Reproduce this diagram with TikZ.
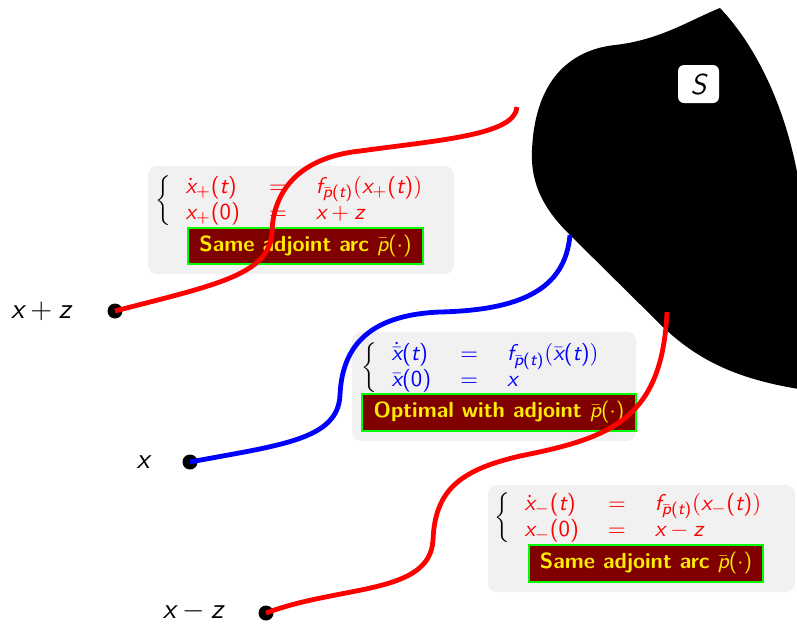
\RequirePackage{fix-cm}
\documentclass[tikz,border=0pt]{standalone}
\DeclareSymbolFont{sfup}{TU}{lmss}{m}{n}
\DeclareSymbolFont{sfit}{TU}{lmss}{m}{sl}
\DeclareMathSymbol{x}{\mathalpha}{sfit}{`x}
\DeclareMathSymbol{z}{\mathalpha}{sfit}{`z}
\DeclareMathSymbol{t}{\mathalpha}{sfit}{`t}
\DeclareMathSymbol{p}{\mathalpha}{sfit}{`p}
\DeclareMathSymbol{f}{\mathalpha}{sfit}{`f}
\DeclareMathSymbol{S}{\mathalpha}{sfit}{`S}
\DeclareMathSymbol{0}{\mathalpha}{sfup}{`0}
\DeclareMathSymbol{(}{\mathopen}{sfup}{`(}
\DeclareMathSymbol{)}{\mathclose}{sfup}{`)}
\definecolor{boxgray}{RGB}{241,241,241}
\definecolor{tagred}{RGB}{128,0,0}
\definecolor{taggreen}{RGB}{0,255,0}
\definecolor{tagyellow}{RGB}{255,235,0}
\begin{document}
\begin{tikzpicture}[x=0.5pt,y=-0.5pt,
  base/.style={font=\fontsize{10.95}{11.5}\selectfont\sffamily, inner sep=0pt,
    scale=1.04, transform shape},
  graybox/.style={fill=boxgray, rounded corners=4.5pt, draw=none, inner sep=0pt},
  tag/.style={fill=tagred, draw=taggreen, line width=1pt, text=tagyellow,
    font=\fontsize{10.95}{12}\selectfont\sffamily\bfseries, inner sep=0pt},
  lbl/.style={font=\fontsize{14.4}{16}\selectfont\sffamily, inner sep=0pt},
  dotnode/.style={circle, fill=black, minimum size=7.5pt, inner sep=0pt},
  traj/.style={line width=2.4pt},
]
\useasboundingbox (0,0) rectangle (797,623);
\clip (0,0) rectangle (797,623);
\setlength{\arraycolsep}{7pt}

% target set S
\fill[black] (720,8) .. controls (690,20) and (660,40) .. (615,45)
  .. controls (570,50) and (535,80) .. (532,150)
  .. controls (530,190) and (550,215) .. (570,235)
  -- (663,327)
  .. controls (700,362) and (740,380) .. (805,390)
  -- (805,240)
  .. controls (800,130) and (760,50) .. (720,8) -- cycle;
\node[fill=white, rounded corners=3pt, minimum width=20.5pt, minimum height=19pt,
  inner sep=0pt, font=\fontsize{14.4}{16}\selectfont\sffamily] (S) at (698.5,84) {$S$};

% gray boxes
\node[graybox, minimum width=153pt, minimum height=54pt] (g1) at (301,220) {};
\node[graybox, minimum width=142pt, minimum height=54.5pt] (g2) at (494,386.5) {};
\node[graybox, minimum width=153.5pt, minimum height=53.5pt] (g3) at (641.5,538.5) {};

% equations
\node[base, anchor=west] (e1) at (155,201)
  {$\left\{\color{red}\begin{array}{lcl}\dot x_+(t) & = & f_{\bar p(t)}\big(x_+(t)\big)\\ x_+(0) & = & x+z\end{array}\right.$};
\node[base, anchor=west] (e2) at (361,368)
  {$\left\{\color{blue}\begin{array}{lcl}\dot{\bar x}(t) & = & f_{\bar p(t)}\big(\bar x(t)\big)\\ \bar x(0) & = & x\end{array}\right.$};
\node[base, anchor=west] (e3) at (494,518)
  {$\left\{\color{red}\begin{array}{lcl}\dot x_-(t) & = & f_{\bar p(t)}\big(x_-(t)\big)\\ x_-(0) & = & x-z\end{array}\right.$};

% tags
\node[tag, minimum width=117.5pt, minimum height=18pt] (t1) at (305.5,246) {Same adjoint arc $\bar p(\cdot)$};
\node[tag, minimum width=137pt, minimum height=18.5pt] (t2) at (499,412.5) {Optimal with adjoint $\bar p(\cdot)$};
\node[tag, minimum width=117pt, minimum height=18.5pt] (t3) at (646,563.5) {Same adjoint arc $\bar p(\cdot)$};

% initial points
\node[dotnode] (d1) at (115,311) {};
\node[dotnode] (d2) at (190,462) {};
\node[dotnode] (d3) at (266,613) {};
\node[lbl] (l1) at (41,311) {$x+z$};
\node[lbl] (l2) at (143,462) {$x$};
\node[lbl] (l3) at (193,611) {$x-z$};

% waypoints
\coordinate (a1) at (272,232);
\coordinate (a2) at (360,151);
\coordinate (a3) at (517,107);
\coordinate (b1) at (340,395);
\coordinate (b2) at (440,312);
\coordinate (b3) at (570,235);
\coordinate (c1) at (433,540);
\coordinate (c2) at (520,456);
\coordinate (c3) at (667,312);

% trajectories
\draw[traj, red] (d1.center) .. controls +(100,-26) and +(-2,43) .. (a1)
  .. controls +(1,-37) and +(-65,7) .. (a2)
  .. controls +(80,-11) and +(-2,28) .. (a3);
\draw[traj, blue] (d2.center) .. controls +(90,-17) and +(-2,45) .. (b1)
  .. controls +(2,-45) and +(-75,3) .. (b2)
  .. controls +(80,-2) and +(-5,55) .. (b3);
\draw[traj, red] (d3.center) .. controls +(74,-28) and +(-3,55) .. (c1)
  .. controls +(2,-50) and +(-60,14) .. (c2)
  .. controls +(90,-18) and +(-5,108) .. (c3);
\end{tikzpicture}
\end{document}
